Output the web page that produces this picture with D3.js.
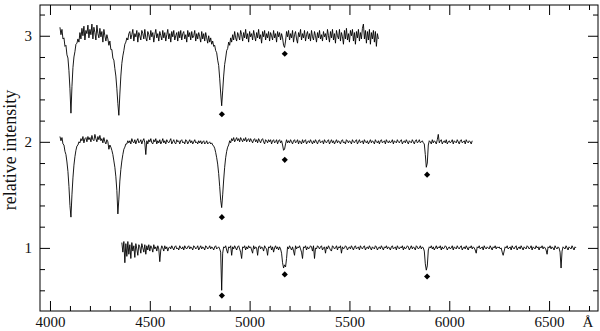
<!DOCTYPE html>
<html>
<head>
<meta charset="utf-8">
<title>Spectra</title>
<script src="https://d3js.org/d3.v7.min.js"></script>
<style>
body { margin: 0; background: #fff; }
svg text { font-family: "Liberation Serif", "DejaVu Serif", serif; fill: #111; }
</style>
</head>
<body>
<div id="chart"></div>
<script>

// spectra sampled every 5 A, first wavelength given by *Start
var spec3Start = 4050, spec3Step = 5;
var spec3Flux = [
  3.08, 3.01, 3.06, 2.97, 2.98, 2.90, 2.91, 2.82, 2.79, 2.67, // 4050
  2.50, 2.27, 2.52, 2.70, 2.80, 2.85, 2.92, 2.93, 2.97, 2.94, // 4100
  3.03, 2.97, 3.07, 3.00, 3.09, 2.96, 3.05, 3.02, 3.10, 2.98, // 4150
  3.06, 3.01, 3.11, 2.97, 3.08, 3.03, 2.96, 3.10, 3.02, 2.98, // 4200
  3.07, 2.99, 3.04, 2.94, 3.06, 3.00, 2.95, 3.01, 2.97, 2.91, // 4250
  2.95, 2.87, 2.87, 2.79, 2.77, 2.69, 2.62, 2.50, 2.36, 2.25, // 4300
  2.45, 2.62, 2.74, 2.81, 2.86, 2.92, 2.94, 2.98, 2.96, 3.02, // 4350
  3.04, 2.97, 3.01, 3.06, 2.95, 3.02, 2.99, 3.05, 2.94, 3.03, // 4400
  3.00, 2.96, 3.05, 3.02, 2.97, 3.06, 2.98, 2.95, 3.04, 3.01, // 4450
  2.96, 3.05, 2.99, 3.03, 2.94, 3.01, 3.06, 2.98, 3.02, 2.95, // 4500
  3.04, 3.00, 2.96, 3.05, 2.98, 3.03, 2.95, 3.01, 3.06, 2.97, // 4550
  3.02, 2.94, 3.04, 2.99, 3.05, 2.96, 3.00, 3.03, 2.95, 3.04, // 4600
  2.98, 3.05, 2.96, 3.02, 3.04, 2.97, 3.01, 2.94, 3.05, 2.99, // 4650
  3.03, 2.96, 3.04, 2.98, 3.00, 3.05, 2.95, 3.02, 2.97, 3.03, // 4700
  2.99, 2.94, 3.04, 2.97, 3.02, 2.95, 3.03, 2.98, 2.93, 3.00, // 4750
  2.94, 2.98, 2.92, 2.95, 2.90, 2.91, 2.86, 2.84, 2.77, 2.72, // 4800
  2.60, 2.46, 2.34, 2.48, 2.62, 2.73, 2.79, 2.86, 2.88, 2.94, // 4850
  2.91, 2.98, 2.94, 3.01, 2.96, 3.04, 2.98, 2.95, 3.03, 3.00, // 4900
  2.96, 3.05, 3.01, 2.95, 3.03, 2.98, 3.06, 2.97, 3.02, 2.94, // 4950
  3.04, 2.99, 3.02, 2.96, 3.05, 3.00, 2.95, 3.03, 2.98, 3.06, // 5000
  2.97, 3.01, 2.93, 3.04, 2.99, 3.05, 2.96, 3.02, 2.98, 3.04, // 5050
  2.95, 3.03, 3.00, 2.96, 3.05, 2.98, 3.02, 2.94, 3.04, 2.99, // 5100
  3.03, 2.96, 3.02, 2.98, 2.91, 2.89, 2.95, 3.04, 2.99, 3.05, // 5150
  2.96, 3.02, 2.98, 3.05, 2.94, 3.01, 3.04, 2.97, 2.93, 3.03, // 5200
  2.99, 3.06, 2.96, 3.02, 2.98, 3.05, 2.95, 3.01, 3.04, 2.97, // 5250
  3.02, 2.95, 3.05, 2.99, 2.96, 3.04, 3.00, 2.94, 3.03, 2.98, // 5300
  3.05, 2.97, 3.01, 2.95, 3.04, 2.99, 3.02, 2.96, 3.06, 3.00, // 5350
  2.94, 3.04, 2.98, 3.06, 2.96, 3.02, 2.93, 3.05, 3.00, 2.97, // 5400
  3.06, 2.95, 3.03, 2.99, 2.92, 3.05, 2.97, 3.07, 2.96, 3.02, // 5450
  2.94, 3.05, 3.00, 3.06, 2.95, 3.03, 2.92, 3.04, 2.98, 3.06, // 5500
  2.95, 3.03, 2.97, 3.07, 3.11, 2.97, 3.05, 2.93, 3.04, 2.96, // 5550
  3.06, 2.92, 3.03, 2.97, 3.05, 2.94, 3.04, 2.90, 3.02, 2.97  // 5600
];

var spec2Start = 4050, spec2Step = 5;
var spec2Flux = [
  2.05, 2.01, 2.04, 1.98, 1.97, 1.91, 1.88, 1.81, 1.72, 1.58, // 4050
  1.40, 1.29, 1.50, 1.66, 1.78, 1.86, 1.92, 1.96, 1.97, 2.00, // 4100
  1.99, 2.03, 2.01, 2.05, 1.99, 2.03, 2.04, 2.00, 2.05, 2.02, // 4150
  2.04, 2.00, 2.06, 2.02, 2.01, 2.07, 2.03, 2.00, 2.05, 2.02, // 4200
  2.06, 2.01, 2.03, 1.99, 2.04, 2.00, 1.98, 2.02, 2.00, 1.93, // 4250
  1.97, 1.95, 1.92, 1.88, 1.82, 1.76, 1.67, 1.54, 1.32, 1.46, // 4300
  1.63, 1.74, 1.82, 1.88, 1.93, 1.95, 1.98, 1.98, 2.01, 1.99, // 4350
  2.01, 1.98, 2.03, 2.00, 1.99, 2.02, 1.98, 2.01, 2.03, 1.99, // 4400
  2.00, 2.02, 1.98, 2.01, 2.03, 1.99, 1.88, 2.01, 1.98, 2.02, // 4450
  2.00, 2.03, 1.99, 1.98, 2.02, 2.00, 2.03, 1.98, 2.01, 1.99, // 4500
  2.02, 1.98, 2.00, 2.03, 1.99, 2.01, 1.98, 2.02, 2.00, 1.99, // 4550
  2.01, 2.03, 1.98, 2.00, 2.02, 1.99, 1.98, 2.02, 2.00, 2.01, // 4600
  1.98, 2.01, 2.02, 1.99, 2.00, 1.98, 2.02, 2.01, 1.98, 2.00, // 4650
  2.02, 1.99, 2.01, 1.98, 2.00, 2.02, 1.99, 2.00, 1.98, 2.01, // 4700
  1.99, 2.01, 1.98, 2.00, 2.01, 1.98, 1.99, 2.01, 1.98, 1.99, // 4750
  2.00, 1.98, 1.99, 1.97, 1.96, 1.94, 1.90, 1.85, 1.79, 1.70, // 4800
  1.58, 1.45, 1.38, 1.50, 1.64, 1.76, 1.85, 1.91, 1.95, 1.97, // 4850
  2.01, 1.99, 2.03, 2.01, 2.04, 2.00, 2.02, 2.04, 2.01, 2.03, // 4900
  2.00, 2.04, 2.02, 2.00, 2.03, 2.01, 2.04, 2.00, 2.02, 2.03, // 4950
  2.00, 2.03, 2.01, 1.99, 2.02, 2.03, 2.00, 2.02, 1.99, 2.03, // 5000
  2.01, 1.99, 2.02, 2.03, 2.00, 1.98, 2.02, 2.01, 1.99, 2.02, // 5050
  2.00, 2.02, 1.98, 2.01, 2.02, 1.99, 2.00, 2.02, 1.98, 2.01, // 5100
  2.02, 1.99, 2.01, 1.97, 1.92, 1.93, 1.98, 2.02, 1.99, 2.01, // 5150
  1.99, 2.02, 2.00, 1.98, 2.01, 2.02, 1.99, 2.00, 2.02, 1.98, // 5200
  2.01, 2.00, 1.98, 2.02, 1.99, 2.01, 2.02, 1.98, 2.00, 2.01, // 5250
  1.99, 2.02, 2.00, 1.98, 2.01, 1.99, 2.02, 2.00, 1.98, 2.01, // 5300
  2.02, 1.99, 2.00, 2.01, 1.98, 2.02, 2.00, 1.99, 2.01, 2.02, // 5350
  1.98, 2.00, 2.02, 1.99, 2.01, 1.98, 2.00, 2.02, 1.99, 2.01, // 5400
  2.00, 1.98, 2.01, 2.02, 1.99, 2.00, 1.98, 2.02, 2.01, 1.99, // 5450
  2.01, 2.00, 1.98, 2.02, 2.00, 1.99, 2.01, 2.02, 1.98, 2.00, // 5500
  2.02, 1.99, 2.00, 2.01, 1.98, 2.02, 2.00, 1.99, 2.01, 1.98, // 5550
  2.00, 2.02, 1.99, 2.01, 2.00, 1.98, 2.02, 2.00, 1.99, 2.01, // 5600
  1.98, 2.01, 2.02, 1.99, 2.00, 2.01, 1.98, 2.02, 2.00, 1.99, // 5650
  2.01, 1.99, 2.00, 2.02, 1.98, 2.01, 2.00, 1.99, 2.02, 2.00, // 5700
  1.99, 2.01, 2.02, 1.98, 2.00, 2.01, 1.99, 2.02, 2.00, 1.98, // 5750
  2.01, 2.00, 1.99, 2.02, 2.00, 1.98, 2.01, 2.02, 1.99, 2.00, // 5800
  2.02, 1.99, 2.00, 2.01, 1.99, 1.98, 1.88, 1.76, 1.80, 1.97, // 5850
  2.01, 2.00, 1.98, 2.02, 1.99, 2.01, 2.00, 1.98, 2.02, 2.07, // 5900
  1.99, 2.01, 2.02, 1.98, 2.00, 2.01, 1.99, 2.02, 1.98, 2.00, // 5950
  2.01, 1.99, 2.00, 2.02, 1.98, 2.01, 2.00, 1.99, 2.02, 2.00, // 6000
  1.98, 2.01, 2.02, 1.99, 2.00, 2.01, 1.98, 2.02, 2.00, 1.99, // 6050
  2.01, 2.00, 1.98, 2.01                                      // 6100
];

var spec1Start = 4360, spec1Step = 5;
var spec1Flux = [
  1.05, 0.96, 1.06, 0.86, 1.04, 0.92, 1.06, 0.94,             // 4360
  1.03, 0.90, 1.05, 0.97, 1.02, 0.91, 1.04, 0.99, 0.93, 1.03, // 4400
  1.01, 0.95, 1.04, 1.00, 0.96, 1.03, 0.94, 1.02, 0.98, 1.03, // 4450
  0.97, 1.02, 1.00, 0.96, 1.03, 0.99, 1.01, 0.97, 1.02, 0.99, // 4500
  0.87, 0.98, 1.02, 1.00, 0.97, 1.02, 0.99, 1.01, 0.97, 1.00, // 4550
  1.01, 0.99, 1.02, 1.00, 0.98, 1.01, 1.02, 0.99, 1.00, 0.98, // 4600
  1.02, 1.00, 0.99, 1.01, 0.98, 1.02, 1.00, 0.99, 1.01, 1.02, // 4650
  0.99, 1.01, 1.00, 0.98, 1.02, 1.01, 0.99, 1.00, 1.02, 0.98, // 4700
  1.00, 1.02, 0.99, 1.01, 1.00, 0.98, 1.02, 1.01, 0.99, 1.00, // 4750
  1.02, 0.99, 1.01, 1.00, 0.98, 1.01, 1.02, 0.99, 1.00, 1.01, // 4800
  0.99, 0.96, 0.60, 0.95, 1.01, 1.00, 1.02, 0.98, 0.95, 1.01, // 4850
  1.00, 1.02, 0.93, 1.01, 0.99, 1.02, 1.00, 0.98, 1.01, 1.02, // 4900
  0.99, 0.96, 0.90, 1.01, 1.00, 1.02, 0.98, 1.01, 0.99, 1.02, // 4950
  1.00, 1.01, 0.98, 0.95, 1.02, 0.99, 1.01, 1.00, 0.93, 1.01, // 5000
  1.02, 0.99, 1.01, 1.00, 0.97, 1.02, 1.00, 0.99, 0.93, 1.01, // 5050
  1.00, 1.02, 0.98, 1.01, 0.96, 1.00, 1.02, 0.99, 1.01, 0.98, // 5100
  1.01, 0.99, 0.95, 0.86, 0.81, 0.84, 0.82, 0.90, 1.01, 0.99, // 5150
  1.02, 1.00, 0.98, 1.01, 0.97, 0.93, 1.02, 0.99, 1.01, 1.00, // 5200
  1.02, 0.99, 0.96, 0.90, 1.01, 1.00, 1.02, 0.98, 1.01, 0.99, // 5250
  1.00, 1.02, 1.01, 0.97, 1.02, 0.90, 1.00, 0.99, 1.02, 1.01, // 5300
  0.99, 1.01, 1.02, 0.98, 1.00, 1.01, 0.95, 1.01, 0.99, 1.02, // 5350
  1.00, 0.98, 0.97, 1.02, 1.01, 0.99, 1.00, 1.02, 0.98, 1.01, // 5400
  1.00, 1.02, 0.95, 1.01, 0.99, 1.00, 1.02, 1.01, 0.98, 1.00, // 5450
  1.01, 0.99, 1.02, 1.00, 0.98, 1.01, 1.02, 0.99, 1.00, 1.01, // 5500
  0.98, 1.02, 1.00, 0.99, 1.01, 1.02, 0.98, 1.00, 1.01, 0.99, // 5550
  1.02, 1.00, 0.98, 1.01, 1.00, 0.99, 1.02, 1.01, 0.98, 1.00, // 5600
  1.01, 0.99, 1.02, 1.00, 0.98, 1.01, 1.00, 1.02, 0.99, 1.01, // 5650
  1.00, 0.98, 1.01, 1.02, 0.99, 1.00, 1.01, 0.98, 1.02, 1.00, // 5700
  0.99, 1.01, 1.00, 1.02, 0.98, 1.01, 0.99, 1.00, 1.02, 1.01, // 5750
  0.98, 1.00, 1.02, 0.99, 1.01, 1.00, 0.98, 1.02, 1.01, 0.99, // 5800
  1.00, 1.02, 0.99, 1.01, 1.00, 0.97, 0.85, 0.79, 0.83, 0.98, // 5850
  1.01, 1.00, 1.02, 0.99, 1.01, 0.98, 1.00, 1.02, 0.99, 1.01, // 5900
  1.00, 1.02, 0.98, 1.01, 0.99, 1.00, 1.02, 1.01, 0.98, 1.00, // 5950
  1.01, 0.99, 1.00, 1.02, 0.98, 1.01, 1.00, 0.99, 1.02, 1.00, // 6000
  0.99, 1.01, 1.02, 0.98, 1.00, 1.01, 0.99, 1.02, 1.00, 0.98, // 6050
  1.01, 1.00, 1.02, 0.99, 1.01, 1.00, 0.98, 0.95, 1.01, 1.00, // 6100
  1.02, 0.99, 1.00, 1.01, 0.98, 1.02, 1.00, 0.99, 1.01, 1.00, // 6150
  0.99, 1.02, 1.00, 0.98, 1.01, 1.00, 1.02, 0.99, 1.01, 1.00, // 6200
  1.01, 0.99, 1.00, 0.96, 0.93, 0.97, 1.01, 1.00, 1.02, 0.99, // 6250
  1.00, 1.01, 0.98, 1.02, 1.00, 0.99, 1.01, 1.02, 0.98, 1.00, // 6300
  1.01, 0.99, 1.02, 1.00, 0.98, 1.01, 1.00, 0.99, 1.02, 1.01, // 6350
  0.99, 1.00, 1.02, 0.98, 1.01, 1.00, 0.99, 1.02, 1.00, 1.01, // 6400
  0.98, 1.01, 1.00, 1.02, 0.99, 1.01, 1.00, 0.98, 0.94, 1.01, // 6450
  1.00, 1.02, 0.99, 1.01, 1.00, 0.98, 1.02, 1.00, 0.99, 1.01, // 6500
  1.00, 0.96, 0.81, 0.97, 1.01, 1.00, 0.99, 1.02, 1.00, 0.98, // 6550
  1.01, 1.00, 0.99, 1.02, 1.00, 0.98, 1.01, 1.00              // 6600
];

// diamond markers under the identified lines
var marks3 = [[4861, 2.26], [5176, 2.83]];
var marks2 = [[4861, 1.29], [5176, 1.83], [5889, 1.69]];
var marks1 = [[4861, 0.55], [5176, 0.75], [5889, 0.73]];

var xLabelTicks = [4000, 4500, 5000, 5500, 6000, 6500];
var xMinorTicks = [4100, 4200, 4300, 4400, 4600, 4700, 4800, 4900, 5100, 5200, 5300, 5400,
                   5600, 5700, 5800, 5900, 6100, 6200, 6300, 6400, 6600, 6700];
var yLabelTicks = [1, 2, 3];
var yMinorTicks = [0.6, 0.8, 1.2, 1.4, 1.6, 1.8, 2.2, 2.4, 2.6, 2.8, 3.2];
var unitTick = 6700;

var margin = {top: 5, right: 2, bottom: 20, left: 40},
    width = 600 - margin.left - margin.right,
    height = 331 - margin.top - margin.bottom;

var svg = d3.select("#chart")
  .append("svg")
    .attr("width", 600)
    .attr("height", 331)
  .append("g")
    .attr("transform", "translate(" + margin.left + "," + margin.top + ")");

var x = d3.scaleLinear().domain([3950, 6745]).range([0, width]);
var y = d3.scaleLinear().domain([0.405, 3.29]).range([height, 0]);

// frame
svg.append("rect")
  .attr("width", width).attr("height", height)
  .attr("fill", "none").attr("stroke", "#000").attr("stroke-width", 1);

function styleAxis(g) {
  g.select(".domain").remove();
  g.selectAll("line").attr("stroke", "#000");
  g.selectAll("text").style("font-size", "15px").attr("fill", "#111");
}

// bottom
svg.append("g").attr("transform", "translate(0," + height + ")")
  .call(d3.axisBottom(x).tickValues(xLabelTicks).tickSize(-10).tickPadding(5).tickFormat(d3.format("d")))
  .call(styleAxis);
svg.append("g").attr("transform", "translate(0," + height + ")")
  .call(d3.axisBottom(x).tickValues(xMinorTicks).tickSize(-5).tickFormat(""))
  .call(styleAxis);
// top
svg.append("g")
  .call(d3.axisTop(x).tickValues(xLabelTicks).tickSize(-10).tickFormat(""))
  .call(styleAxis);
svg.append("g")
  .call(d3.axisTop(x).tickValues(xMinorTicks).tickSize(-5).tickFormat(""))
  .call(styleAxis);
// left
svg.append("g")
  .call(d3.axisLeft(y).tickValues(yLabelTicks).tickSize(-10).tickPadding(8).tickFormat(d3.format("d")))
  .call(styleAxis);
svg.append("g")
  .call(d3.axisLeft(y).tickValues(yMinorTicks).tickSize(-5).tickFormat(""))
  .call(styleAxis);
// right
svg.append("g").attr("transform", "translate(" + width + ",0)")
  .call(d3.axisRight(y).tickValues(yLabelTicks).tickSize(-10).tickFormat(""))
  .call(styleAxis);
svg.append("g").attr("transform", "translate(" + width + ",0)")
  .call(d3.axisRight(y).tickValues(yMinorTicks).tickSize(-5).tickFormat(""))
  .call(styleAxis);

// unit label at the far end of the wavelength axis
svg.append("text")
  .attr("x", x(unitTick) - 1)
  .attr("y", height + 5)
  .attr("dy", "0.71em")
  .attr("text-anchor", "middle")
  .style("font-size", "15px")
  .text("Å");

// y title
svg.append("text")
  .attr("transform", "translate(" + (-30) + "," + (height / 2 - 8) + ")rotate(-90)")
  .attr("text-anchor", "middle")
  .attr("dy", "0.35em")
  .style("font-size", "18px")
  .text("relative intensity");

var spectra = [
  {start: spec3Start, step: spec3Step, flux: spec3Flux},
  {start: spec2Start, step: spec2Step, flux: spec2Flux},
  {start: spec1Start, step: spec1Step, flux: spec1Flux}
];

spectra.forEach(function(s) {
  var line = d3.line()
    .x(function(d, i) { return x(s.start + i * s.step); })
    .y(function(d) { return y(d); });
  svg.append("path")
    .datum(s.flux)
    .attr("fill", "none")
    .attr("stroke", "#000")
    .attr("stroke-width", 0.9)
    .attr("d", line);
});

var diamond = d3.symbol().type(d3.symbolSquare).size(19);
svg.selectAll(".mark")
  .data(marks3.concat(marks2, marks1))
  .enter()
  .append("path")
    .attr("class", "mark")
    .attr("transform", function(d) { return "translate(" + x(d[0]) + "," + y(d[1]) + ")rotate(45)"; })
    .attr("d", diamond)
    .attr("fill", "#000");

</script>
</body>
</html>
